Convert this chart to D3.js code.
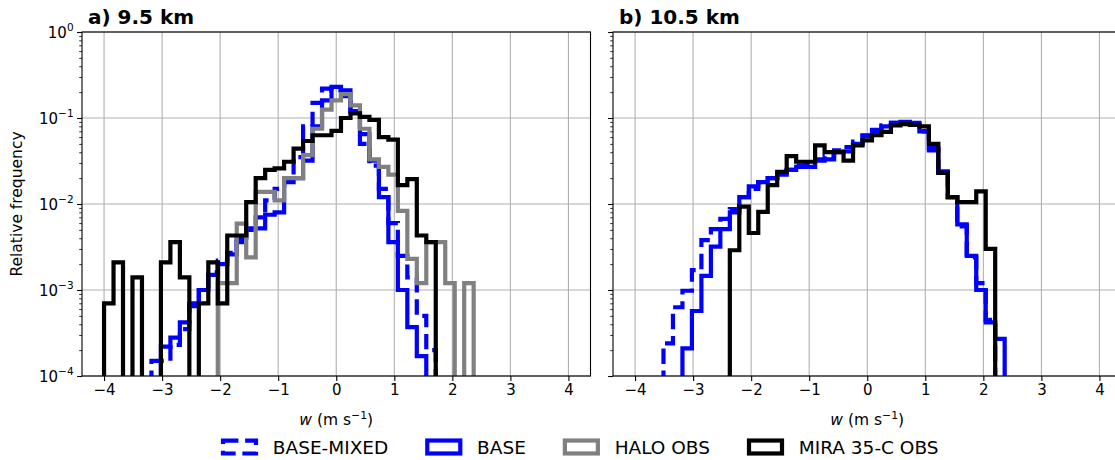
<!DOCTYPE html>
<html>
<head>
<meta charset="utf-8">
<script src="https://cdn.jsdelivr.net/npm/d3@7"></script>
<style>
  body { margin: 0; background: #ffffff; }
  text { font-family: "DejaVu Sans", sans-serif; fill: #000; }
</style>
</head>
<body>
<svg id="fig" width="1115" height="460"></svg>
<script>
// Histogram bins: 49 equal bins spanning w = -4 ... 4 m/s
const binLo = -4, binHi = 4, binCount = 49;

const xTicks = [-4, -3, -2, -1, 0, 1, 2, 3, 4];
const yTicks = [1e-4, 1e-3, 1e-2, 1e-1, 1];
const yTickExponents = ["−4", "−3", "−2", "−1", "0"];
const seriesNames = ["BASE-MIXED", "BASE", "HALO OBS", "MIRA 35-C OBS"];
const panelTitles = ["a) 9.5 km", "b) 10.5 km"];

// Relative frequency per bin at 9.5 km
const baseMixed95 = [0,0,0,0,0, 1.5e-4,1.5e-4,2.3e-4,3.5e-4,6.5e-4,
  1e-3,1.6e-3,2.2e-3,2.7e-3,3.6e-3, 5e-3,7e-3,1.1e-2,1.5e-2,2e-2,
  3.5e-2,8e-2,1.5e-1,2.2e-1,2.1e-1, 1.8e-1,1.2e-1,5e-2,2.8e-2,1.5e-2,
  6e-3,2.5e-3,1.4e-3,5e-4,2e-4, 0,0,0,0,0, 0,0,0,0,0, 0,0,0,0];
const base95 = [0,0,0,0,0, 0,2.2e-4,2.8e-4,4.2e-4,7e-4,
  1e-3,1.5e-3,2e-3,2.6e-3,4e-3, 5.2e-3,5.2e-3,7.5e-3,8e-3,1.8e-2,
  2e-2,3.2e-2,8e-2,1.6e-1,2.3e-1, 2.1e-1,1.2e-1,6.5e-2,3.2e-2,1.2e-2,
  3.6e-3,1e-3,3.7e-4,1.7e-4,0, 0,0,0,0,0, 0,0,0,0,0, 0,0,0,0];
const halo95 = [0,0,0,0,0, 0,0,0,0,0,
  0,0,1.2e-3,1.2e-3,5.9e-3, 2.4e-3,1.38e-2,1.38e-2,1.1e-2,2e-2,
  2e-2,3.7e-2,7.5e-2,1.25e-1,1.6e-1, 1.9e-1,1.4e-1,7.5e-2,3.3e-2,2.7e-2,
  2.2e-2,8.3e-3,2.3e-3,1.2e-3,3.6e-3, 3.6e-3,1.2e-3,0,1.2e-3,0, 0,0,0,0,0, 0,0,0,0];
const mira95 = [7e-4,2.1e-3,0,1.4e-3,0, 0,2.1e-3,3.6e-3,1.4e-3,0,
  7e-4,2.1e-3,7e-4,4.3e-3,4.3e-3, 1.05e-2,2e-2,2.5e-2,2.6e-2,3.1e-2,
  4.4e-2,5.4e-2,6.3e-2,6.3e-2,7.1e-2, 1e-1,1.13e-1,1.03e-1,9.5e-2,6e-2,
  5.6e-2,1.66e-2,1.95e-2,4.3e-3,3.6e-3, 0,0,0,0,0, 0,0,0,0,0, 0,0,0,0];

// Relative frequency per bin at 10.5 km
const baseMixed105 = [0,0,0,2.4e-4,6.3e-4, 9.8e-4,1.7e-3,3.8e-3,5.1e-3,6.7e-3,
  8.7e-3,1.2e-2,1.5e-2,1.8e-2,2e-2, 2.3e-2,2.5e-2,2.8e-2,3e-2,3.3e-2,
  3.6e-2,4.2e-2,4.6e-2,5.3e-2,6.3e-2, 7.3e-2,8.2e-2,8.8e-2,8.8e-2,8.5e-2,
  7e-2,4.2e-2,2.3e-2,1.2e-2,5.5e-3, 2.4e-3,1.2e-3,4.5e-4,0,0, 0,0,0,0,0, 0,0,0,0];
const base105 = [0,0,0,0,0, 2.1e-4,5.7e-4,1.46e-3,3.2e-3,5.1e-3,
  8e-3,1.2e-2,1.6e-2,1.8e-2,2e-2, 2.2e-2,2.5e-2,2.7e-2,2.7e-2,3.2e-2,
  3.3e-2,4e-2,4.1e-2,5e-2,6.2e-2, 7e-2,8e-2,8.8e-2,9e-2,8.8e-2,
  7e-2,4.5e-2,2.4e-2,1.2e-2,5.8e-3, 2.5e-3,1e-3,4.2e-4,2.7e-4,0, 0,0,0,0,0, 0,0,0,0];
const mira105 = [0,0,0,0,0, 0,0,0,0,0,
  2.9e-3,9.3e-3,4.6e-3,8.1e-3,1.66e-2, 2.36e-2,3.6e-2,3.1e-2,3.1e-2,4.8e-2,
  4e-2,4e-2,3.2e-2,4.8e-2,5.5e-2, 6.3e-2,6.9e-2,8.2e-2,8.5e-2,8.3e-2,
  8e-2,5e-2,2.3e-2,1.2e-2,1.05e-2, 1.05e-2,1.4e-2,3e-3,0,0, 0,0,0,0,0, 0,0,0,0];

// ---------------------------------------------------------------------------
const svg = d3.select("#fig");
svg.append("rect").attr("width", 1115).attr("height", 460).attr("fill", "#fff");

const edges = d3.range(binCount + 1).map(i => binLo + i * (binHi - binLo) / binCount);

const plotTop = 32, plotH = 344, plotW = 508.5;
const tickFont = 15, labelFont = 15.5, titleFont = 20, legendFont = 18.5;
const panels = [
  { left: 82,  title: panelTitles[0], series: [baseMixed95, base95, halo95, mira95], yLabels: true },
  { left: 613, title: panelTitles[1], series: [baseMixed105, base105, null, mira105], yLabels: false }
];
const seriesStyle = [
  { color: "#0000ff", dash: "15.4,6.7" },
  { color: "#0000ff", dash: null },
  { color: "#808080", dash: null },
  { color: "#000000", dash: null }
];
const lineW = 4.2;
const minorTicks = [];
for (let e = -4; e < 0; e++) for (let m = 2; m <= 9; m++) minorTicks.push(m * Math.pow(10, e));

const fmtX = d => (d < 0 ? "−" + (-d) : String(d));

panels.forEach((p, pi) => {
  const x = d3.scaleLinear().domain([-4.38, 4.38]).range([p.left, p.left + plotW]);
  const y = d3.scaleLog().domain([1e-4, 1]).range([plotTop + plotH, plotTop]);
  const g = svg.append("g");

  // grid
  g.append("g").selectAll("line").data(xTicks).join("line")
    .attr("x1", d => x(d)).attr("x2", d => x(d))
    .attr("y1", plotTop).attr("y2", plotTop + plotH)
    .attr("stroke", "#b0b0b0").attr("stroke-width", 1.1);
  g.append("g").selectAll("line").data(yTicks).join("line")
    .attr("x1", p.left).attr("x2", p.left + plotW)
    .attr("y1", d => y(d)).attr("y2", d => y(d))
    .attr("stroke", "#b0b0b0").attr("stroke-width", 1.1);

  // histogram outlines
  const clipId = "clip" + pi;
  g.append("clipPath").attr("id", clipId).append("rect")
    .attr("x", p.left).attr("y", plotTop).attr("width", plotW).attr("height", plotH);
  const yBelow = plotTop + plotH + 10;
  const line = d3.line().x(d => x(d[0])).y(d => (d[1] > 0 ? y(d[1]) : yBelow));
  p.series.forEach((vals, si) => {
    if (!vals) return;
    const first = vals.findIndex(v => v > 0);
    let last = vals.length - 1;
    while (last >= 0 && !(vals[last] > 0)) last--;
    const pts = [[edges[first], 0]];
    for (let k = first; k <= last; k++) {
      pts.push([edges[k], vals[k]], [edges[k + 1], vals[k]]);
    }
    pts.push([edges[last + 1], 0]);
    const st = seriesStyle[si];
    g.append("path").attr("clip-path", `url(#${clipId})`)
      .attr("d", line(pts))
      .attr("fill", "none").attr("stroke", st.color).attr("stroke-width", lineW)
      .attr("stroke-linejoin", "miter").attr("stroke-linecap", "butt")
      .attr("stroke-dasharray", st.dash);
  });

  // frame
  g.append("rect").attr("x", p.left).attr("y", plotTop).attr("width", plotW).attr("height", plotH)
    .attr("fill", "none").attr("stroke", "#000").attr("stroke-width", 1.1);

  // x axis
  const xa = g.append("g").attr("transform", `translate(0,${plotTop + plotH})`)
    .call(d3.axisBottom(x).tickValues(xTicks).tickSize(4.9).tickPadding(3.5).tickFormat(fmtX));
  xa.select(".domain").remove();
  xa.selectAll("line").attr("stroke-width", 1.1);
  xa.selectAll("text").attr("font-size", tickFont).attr("font-family", "DejaVu Sans");

  // y axis: major + minor ticks
  const ya = g.append("g").attr("transform", `translate(${p.left},0)`)
    .call(d3.axisLeft(y).tickValues(yTicks).tickSize(4.9).tickFormat(""));
  ya.select(".domain").remove();
  ya.selectAll("line").attr("stroke-width", 1.1);
  const ym = g.append("g").attr("transform", `translate(${p.left},0)`)
    .call(d3.axisLeft(y).tickValues(minorTicks).tickSize(2.8).tickFormat(""));
  ym.select(".domain").remove();
  ym.selectAll("line").attr("stroke-width", 0.8);

  if (p.yLabels) {
    yTicks.forEach((v, i) => {
      const t = g.append("text").attr("x", p.left - 8.4).attr("y", y(v) + 5.5)
        .attr("text-anchor", "end").attr("font-size", tickFont);
      t.append("tspan").text("10");
      t.append("tspan").attr("font-size", tickFont * 0.7).attr("dy", -6.5).text(yTickExponents[i]);
    });
    g.append("text").attr("transform", `translate(22,${plotTop + plotH / 2}) rotate(-90)`)
      .attr("text-anchor", "middle").attr("font-size", labelFont).text("Relative frequency");
  }

  // x label
  const xl = g.append("text").attr("x", p.left + plotW / 2).attr("y", 425)
    .attr("text-anchor", "middle").attr("font-size", labelFont);
  xl.append("tspan").attr("font-style", "italic").text("w");
  xl.append("tspan").text(" (m s");
  xl.append("tspan").attr("font-size", labelFont * 0.7).attr("dy", -6.5).text("−1");
  xl.append("tspan").attr("dy", 6.5).text(")");

  // title
  g.append("text").attr("x", p.left + 6).attr("y", 24).attr("font-size", titleFont)
    .attr("font-weight", "bold").text(p.title);
});

// legend: handle 2em wide, 0.8em gap to text, 2em between columns
const lg = svg.append("g");
let lx = 221;
const ly = 447;
seriesNames.forEach((name, i) => {
  const st = seriesStyle[i];
  lg.append("rect").attr("x", lx + 2).attr("y", ly - 0.35 * legendFont)
    .attr("width", 2 * legendFont - 4).attr("height", 0.7 * legendFont)
    .attr("fill", "none").attr("stroke", st.color).attr("stroke-width", lineW)
    .attr("stroke-dasharray", st.dash);
  const t = lg.append("text").attr("x", lx + 2.8 * legendFont).attr("y", ly + 0.36 * legendFont)
    .attr("font-size", legendFont).text(name);
  const w = t.node().getComputedTextLength();
  lx += 2.8 * legendFont + w + 2 * legendFont;
});
</script>
</body>
</html>
